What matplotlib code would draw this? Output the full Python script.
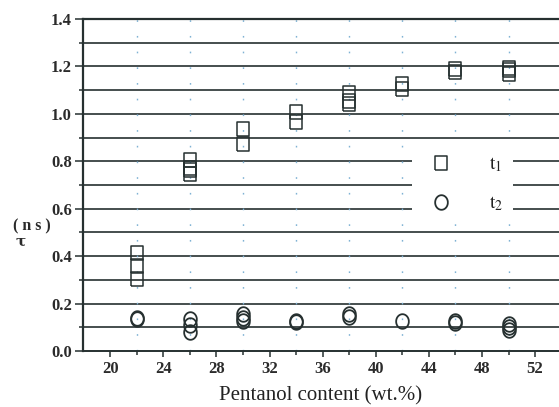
import matplotlib
matplotlib.use('Agg')
import matplotlib.pyplot as plt
import numpy as np

# Pentanol content (wt.%) and lifetimes (ns)
t1_x = [22, 22, 22, 26, 26, 26, 26, 30, 30, 34, 34, 38, 38, 38, 42, 42, 46, 46, 50, 50, 50]
t1_y = [0.414, 0.36, 0.304, 0.804, 0.77, 0.762, 0.745, 0.935, 0.873, 1.006, 0.964,
        1.087, 1.055, 1.04, 1.124, 1.103, 1.19, 1.177, 1.192, 1.183, 1.167]
t2_x = [22, 22, 26, 26, 26, 30, 30, 30, 34, 34, 38, 38, 42, 46, 46, 50, 50, 50]
t2_y = [0.14, 0.135, 0.133, 0.11, 0.082, 0.154, 0.14, 0.128, 0.127, 0.122,
        0.155, 0.145, 0.127, 0.125, 0.12, 0.112, 0.10, 0.09]

x_major = [20, 24, 28, 32, 36, 40, 44, 48, 52]
x_minor = [22, 26, 30, 34, 38, 42, 46, 50]
y_major = [0.0, 0.2, 0.4, 0.6, 0.8, 1.0, 1.2, 1.4]
y_minor = [0.1, 0.3, 0.5, 0.7, 0.9, 1.1, 1.3]

ink = '#263030'
plt.rcParams['mathtext.fontset'] = 'stix'

fig = plt.figure(figsize=(5.59, 4.07), dpi=100)
ax = fig.add_axes([83 / 559, 56 / 407, 476 / 559, 332 / 407])

# markers slightly taller than wide, as in the scan
sq = [(-0.87, -1), (0.87, -1), (0.87, 1), (-0.87, 1), (-0.87, -1)]
th = np.linspace(0, 2 * np.pi, 60)
ell = list(zip(0.87 * np.cos(th), np.sin(th)))

# horizontal rules and dotted verticals
for v in y_major[1:-1] + y_minor:
    ax.axhline(v, color=ink, lw=1.2, zorder=1)
for v in x_minor:
    ax.axvline(v, color='#7fb2d4', lw=1.0, ls=(0, (1.2, 10.1)), zorder=1)

ax.plot(t1_x, t1_y, ls='none', marker=sq, ms=10.5, mfc='none', mec=ink, mew=1.1,
        label=r'$\mathrm{t}_{1}$', zorder=3)
ax.plot(t2_x, t2_y, ls='none', marker=ell, ms=10.5, mfc='none', mec=ink, mew=1.3,
        label=r'$\mathrm{t}_{2}$', zorder=3)

ax.set_xlim(17.95, 53.8)
ax.set_ylim(0, 1.4)
ax.set_xticks(x_major)
ax.set_xticks(x_minor, minor=True)
ax.set_yticks(y_major)
ax.set_yticks(y_minor, minor=True)
ax.set_yticklabels([f'{v:.1f}' for v in y_major])

ax.spines['right'].set_visible(False)
for s, w in [('left', 1.6), ('bottom', 1.4), ('top', 1.6)]:
    ax.spines[s].set_linewidth(w)
    ax.spines[s].set_color(ink)

ax.tick_params(axis='both', which='both', color=ink, width=1.1, direction='out')
ax.tick_params(axis='x', which='major', length=4, pad=3)
ax.tick_params(axis='x', which='minor', length=3)
ax.tick_params(axis='y', which='major', length=6, pad=2)
ax.tick_params(axis='y', which='minor', length=3)
for lab in ax.get_xticklabels() + ax.get_yticklabels():
    lab.set_fontfamily('Liberation Serif')
    lab.set_fontweight('bold')
    lab.set_fontsize(12)
    lab.set_color('#2b2b2b')

ax.set_xlabel('Pentanol content (wt.%)', family='Liberation Serif', fontsize=15,
              color='#222222', labelpad=7)

fig.text(13 / 559, 1 - 226 / 407, '( n s )', family='Liberation Serif', fontweight='bold',
         fontsize=11.5, color='#2b2b2b', va='center', ha='left')
fig.text(15 / 559, 1 - 242 / 407, 'τ', family='DejaVu Serif', fontweight='bold',
         fontsize=11, color='#2b2b2b', va='center', ha='left')

leg = ax.legend(loc='center', bbox_to_anchor=(0.797, 0.503), frameon=True,
                fancybox=False, framealpha=1, edgecolor='none', facecolor='white',
                fontsize=14, handlelength=2.0, handletextpad=1.45, labelspacing=1.0,
                borderpad=0.5)
for t in leg.get_texts():
    t.set_color('#222222')

fig.savefig('out.png', dpi=100, facecolor='white')
